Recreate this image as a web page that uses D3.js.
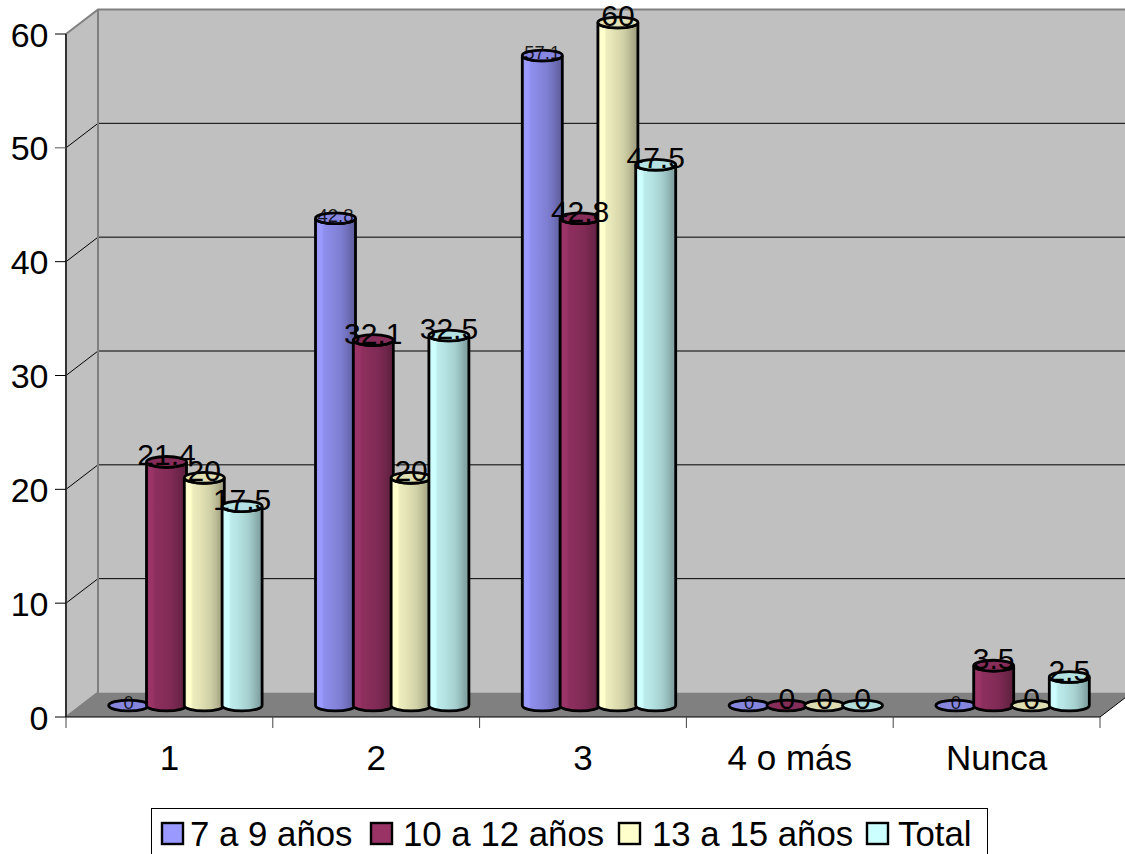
<!DOCTYPE html>
<html><head><meta charset="utf-8">
<script src="https://cdn.jsdelivr.net/npm/d3@7"></script>
<style>
html,body{margin:0;padding:0;background:#fff;overflow:hidden}
svg{display:block}
text{font-family:"Liberation Sans",Arial,sans-serif;fill:#000}
</style></head><body>
<svg id="chart" width="1125" height="854"></svg>
<script>
const categories = ["1", "2", "3", "4 o más", "Nunca"];
const seriesNames = ["7 a 9 años", "10 a 12 años", "13 a 15 años", "Total"];
const ninos7a9 = [0, 42.8, 57.1, 0, 0];
const ninos10a12 = [21.4, 32.1, 42.8, 0, 3.5];
const ninos13a15 = [20, 20, 60, 0, 0];
const totalGeneral = [17.5, 32.5, 47.5, 0, 2.5];
const seriesValues = [ninos7a9, ninos10a12, ninos13a15, totalGeneral];
const seriesColors = ["#9999ff", "#993366", "#ffffcc", "#ccffff"];
const yTicks = [0, 10, 20, 30, 40, 50, 60];

const svg = d3.select("#chart");
const W = 1125;
const plotL = 66, plotR = 1100, plotB = 717, plotT = 34;
const depthX = 32, depthY = 24.5;

const x = d3.scaleBand().domain(categories).range([plotL, plotR]);
const y = d3.scaleLinear().domain([0, 60]).range([plotB, plotT]);
const barStep = 37.8, rx = 20, ry = 5.4;
const inner = d3.scalePoint().domain(d3.range(seriesNames.length))
  .range([-1.5 * barStep, 1.5 * barStep]);
const barShiftX = 16, barShiftY = -11.5;

// Cylinder shading: vertical bands, lit on the left and falling off to the right
const defs = svg.append("defs");
const shade = [[0, .92], [.07, 1.02], [.16, 1.0], [.22, .92], [.34, .9], [.5, .86], [.64, .82], [.78, .74], [.9, .66], [1, .62]];
seriesColors.forEach((c, i) => {
  const g = defs.append("linearGradient").attr("id", "cyl" + i)
    .attr("x1", 0).attr("x2", 1).attr("y1", 0).attr("y2", 0);
  const base = d3.rgb(c);
  shade.forEach(([o, k]) => {
    g.append("stop").attr("offset", o).attr("stop-color",
      d3.rgb(Math.min(255, base.r * k), Math.min(255, base.g * k), Math.min(255, base.b * k)).formatHex());
  });
});

// Walls and floor
const pts = a => a.map(p => p.join(",")).join(" ");
svg.append("polygon").attr("fill", "#c0c0c0")
  .attr("points", pts([[plotL + depthX, plotT - depthY], [W + 2, plotT - depthY], [W + 2, plotB - depthY], [plotL + depthX, plotB - depthY]]));
svg.append("polygon").attr("fill", "#c0c0c0")
  .attr("points", pts([[plotL, plotT], [plotL + depthX, plotT - depthY], [plotL + depthX, plotB - depthY], [plotL, plotB]]));
svg.append("polygon").attr("fill", "#808080")
  .attr("points", pts([[plotL, plotB], [plotL + depthX, plotB - depthY], [plotR + depthX, plotB - depthY], [plotR, plotB]]));

// Gridlines across the back wall and the side wall
const grid = svg.append("g");
yTicks.filter(t => t > 0 && t < 60).forEach(t => {
  grid.append("line").attr("x1", plotL).attr("y1", y(t)).attr("x2", plotL + depthX).attr("y2", y(t) - depthY)
    .attr("stroke", "#000").attr("stroke-width", 1);
  grid.append("line").attr("x1", plotL + depthX).attr("y1", y(t) - depthY).attr("x2", W).attr("y2", y(t) - depthY)
    .attr("stroke", "#000").attr("stroke-width", 1);
});
// Wall outlines
const outline = svg.append("g").attr("fill", "none").attr("stroke", "#808080").attr("stroke-width", 2);
outline.append("path").attr("d", `M${plotL},${plotT}L${plotL + depthX},${plotT - depthY}L${W},${plotT - depthY}`);
outline.append("path").attr("d", `M${plotL + depthX},${plotT - depthY}V${plotB - depthY}L${plotL},${plotB}`);
svg.append("line").attr("x1", plotL).attr("x2", plotL).attr("y1", plotT).attr("y2", plotB)
  .attr("stroke", "#333").attr("stroke-width", 2);

// Axes
const yAxis = svg.append("g");
yTicks.forEach(t => {
  yAxis.append("line").attr("x1", plotL - 11).attr("x2", plotL).attr("y1", y(t)).attr("y2", y(t))
    .attr("stroke", t === 50 ? "#555" : "#000").attr("stroke-width", 1);
  yAxis.append("text").attr("x", 48.5).attr("y", y(t) + 12.5).attr("text-anchor", "end")
    .attr("font-size", 34).text(t);
});
const xAxis = svg.append("g");
xAxis.append("line").attr("x1", plotL).attr("x2", plotR).attr("y1", plotB).attr("y2", plotB).attr("stroke", "#000");
xAxis.append("line").attr("x1", plotR).attr("y1", plotB).attr("x2", plotR + depthX).attr("y2", plotB - depthY).attr("stroke", "#000");
[...categories.map(c => x(c)), plotR].forEach(px => {
  xAxis.append("line").attr("x1", px).attr("x2", px).attr("y1", plotB).attr("y2", plotB + 11).attr("stroke", "#444");
});
categories.forEach(c => {
  xAxis.append("text").attr("x", x(c) + x.bandwidth() / 2).attr("y", 770).attr("text-anchor", "middle")
    .attr("font-size", 35).text(c);
});

// Cylinders, drawn series by series so each one overlaps its left neighbour
const barsLayer = svg.append("g");
const labelData = [];
categories.forEach((c, ci) => {
  seriesValues.forEach((vals, si) => {
    const v = vals[ci];
    const cx = x(c) + x.bandwidth() / 2 + barShiftX + inner(si);
    const base = y(0) + barShiftY, topY = y(v) + barShiftY;
    const g = barsLayer.append("g").attr("stroke", "#000").attr("stroke-width", 2.8);
    if (v > 0) {
      g.append("path").attr("fill", `url(#cyl${si})`)
        .attr("d", `M${cx - rx},${topY}V${base}A${rx},${ry} 0 0 0 ${cx + rx},${base}V${topY}A${rx},${ry} 0 0 1 ${cx - rx},${topY}Z`);
      const d = d3.rgb(seriesColors[si]).darker(0.35);
      g.append("ellipse").attr("cx", cx).attr("cy", topY).attr("rx", rx).attr("ry", ry).attr("fill", d.formatHex());
    } else {
      const d = d3.rgb(seriesColors[si]).darker(0.4);
      g.append("ellipse").attr("cx", cx).attr("cy", base).attr("rx", rx).attr("ry", ry).attr("fill", d.formatHex());
    }
    labelData.push({v, cx, topY, si});
  });
});

// Value labels sit above all the cylinders
svg.append("g").selectAll("text").data(labelData).join("text")
  .attr("x", d => d.cx)
  .attr("y", d => d.topY + 3.5)
  .attr("text-anchor", "middle")
  .attr("font-size", d => d.si === 0 ? 18.5 : 30)
  .attr("fill-opacity", d => d.si === 0 ? .85 : 1)
  .text(d => d.v);

// Legend
svg.append("rect").attr("x", 151.5).attr("y", 808.5).attr("width", 836).attr("height", 50)
  .attr("fill", "#fff").attr("stroke", "#000");
const legendSwatchX = [162, 371, 619, 867];
const legendTextX = [190, 403, 652, 898];
seriesNames.forEach((name, i) => {
  svg.append("rect").attr("x", legendSwatchX[i]).attr("y", 823).attr("width", 21).attr("height", 21)
    .attr("fill", seriesColors[i]).attr("stroke", "#000").attr("stroke-width", 2.4);
  svg.append("text").attr("x", legendTextX[i]).attr("y", 846).attr("font-size", 34.8).text(name);
});
</script>
</body></html>
